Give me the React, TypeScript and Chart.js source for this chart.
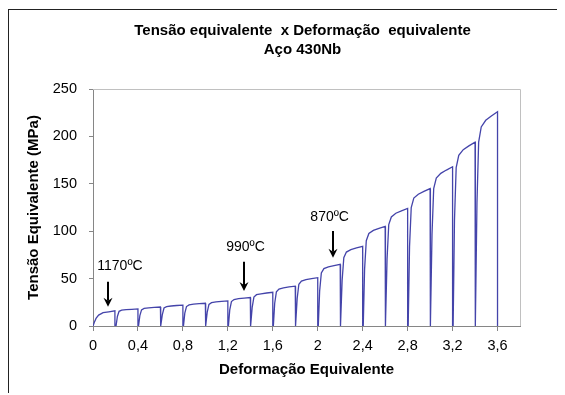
import React, { useEffect, useRef } from "react";
import { Chart, registerables } from "chart.js";

Chart.register(...registerables);

// ---- data ----
const titleLines = ["Tensão equivalente  x Deformação  equivalente", "Aço 430Nb"];
const xTitle = "Deformação Equivalente";
const yTitle = "Tensão Equivalente (MPa)";

// strain at which each deformation pass begins
const passStart = [0, 0.205, 0.405, 0.605, 0.805, 1.005, 1.205, 1.405, 1.605, 1.805, 2.005, 2.205, 2.405, 2.605, 2.805, 3.005, 3.205, 3.405];
// strain offsets within a pass where the stress was read
const passOffsets = [0, 0.012, 0.027, 0.05, 0.09, 0.14, 0.195, 0.195];
// stress (MPa) read at those offsets for every pass
const passStress = [
  [0, 4, 8, 11.5, 14, 15, 16, 0],
  [0, 10, 15.5, 16.7, 17.3, 17.6, 18, 0],
  [0, 11, 17, 18.6, 19.2, 19.6, 20, 0],
  [0, 12, 19, 20.5, 21.1, 21.6, 22, 0],
  [0, 13.5, 20.5, 22.3, 23, 23.5, 24, 0],
  [0, 15, 22.8, 24.6, 25.4, 26, 26.5, 0],
  [0, 17, 25.8, 27.9, 28.8, 29.4, 30, 0],
  [0, 20, 30.5, 33, 34, 34.8, 35.5, 0],
  [0, 24, 36, 39, 40.3, 41.2, 42, 0],
  [0, 29, 44, 47.4, 49, 50, 51, 0],
  [0, 37, 56, 60.5, 62.4, 63.7, 65, 0],
  [0, 48, 72, 78, 80.6, 82.3, 84, 0],
  [0, 60, 90, 97.6, 100.8, 103, 105, 0],
  [0, 71, 107, 115, 119, 121.5, 124, 0],
  [0, 84, 125, 135, 139, 142, 145, 0],
  [0, 97, 145, 156, 161, 164.5, 168, 0],
  [0, 112, 167, 180, 186, 190, 194, 0],
  [0, 130, 194, 210, 217, 221.5, 226, 0],
];

const xMin = 0;
const xMax = 3.8;
const xStep = 0.4;
const yMin = 0;
const yMax = 250;
const yStep = 50;

// temperature annotations
const noteLabels = ["1170ºC", "990ºC", "870ºC"];
const noteX = [0.24, 1.357, 2.106];
const noteY = [63.3, 83.6, 115.3];
const arrowX = [0.137, 1.34, 2.133];
const arrowTop = [46.7, 67.8, 100.2];
const arrowBottom = [20.4, 36.9, 72.1];

const FONT = "'Liberation Sans', Arial, Helvetica, sans-serif";

const points: { x: number; y: number }[] = [];
passStart.forEach((s, i) => {
  passOffsets.forEach((o, j) => {
    points.push({ x: s + o, y: passStress[i][j] });
  });
});

const decorPlugin = {
  id: "decor",
  beforeDatasetsDraw(chart: any) {
    const { ctx, chartArea } = chart;
    ctx.save();
    ctx.strokeStyle = "#c0c0c0";
    ctx.lineWidth = 1;
    ctx.beginPath();
    ctx.moveTo(chartArea.left, Math.round(chartArea.top) + 0.5);
    ctx.lineTo(Math.round(chartArea.right) + 0.5, Math.round(chartArea.top) + 0.5);
    ctx.lineTo(Math.round(chartArea.right) + 0.5, chartArea.bottom);
    ctx.stroke();
    ctx.restore();
  },
  afterDraw(chart: any) {
    const { ctx } = chart;
    const xs = chart.scales.x;
    const ys = chart.scales.y;
    ctx.save();
    // title
    ctx.fillStyle = "#000";
    ctx.textAlign = "center";
    ctx.textBaseline = "middle";
    ctx.font = `bold 15px ${FONT}`;
    ctx.fillText(titleLines[0], 293.5, 21);
    ctx.fillText(titleLines[1], 293.5, 40);
    // annotations
    ctx.font = `14px ${FONT}`;
    noteLabels.forEach((t, i) => {
      ctx.fillText(t, xs.getPixelForValue(noteX[i]), ys.getPixelForValue(noteY[i]));
      const ax = Math.round(xs.getPixelForValue(arrowX[i]));
      const y0 = ys.getPixelForValue(arrowTop[i]);
      const y1 = ys.getPixelForValue(arrowBottom[i]);
      ctx.strokeStyle = "#000";
      ctx.lineWidth = 2;
      ctx.beginPath();
      ctx.moveTo(ax, y0);
      ctx.lineTo(ax, y1 - 6);
      ctx.stroke();
      ctx.beginPath();
      ctx.moveTo(ax - 4.5, y1 - 9);
      ctx.lineTo(ax, y1);
      ctx.lineTo(ax + 4.5, y1 - 9);
      ctx.lineTo(ax, y1 - 6);
      ctx.closePath();
      ctx.fillStyle = "#000";
      ctx.fill();
    });
    ctx.restore();
  },
};

export default function App() {
  const ref = useRef<HTMLCanvasElement>(null);
  useEffect(() => {
    if (!ref.current) return;
    const chart = new Chart(ref.current, {
      type: "scatter",
      data: {
        datasets: [
          {
            data: points,
            showLine: true,
            borderColor: "#4444aa",
            borderWidth: 1.3,
            pointRadius: 0,
            tension: 0,
          },
        ],
      },
      options: {
        responsive: false,
        animation: false,
        devicePixelRatio: 1,
        layout: { padding: { top: 79, right: 45, bottom: 0, left: 0 } },
        plugins: {
          legend: { display: false },
          title: { display: false },
          tooltip: { enabled: false },
        },
        scales: {
          x: {
            type: "linear",
            min: xMin,
            max: xMax,
            ticks: {
              stepSize: xStep,
              includeBounds: false,
              autoSkip: false,
              maxRotation: 0,
              padding: 6,
              color: "#000",
              font: { family: FONT, size: 14.5 },
              callback: (v: any) => String(Math.round(Number(v) * 10) / 10).replace(".", ","),
            },
            grid: { display: true, drawOnChartArea: false, drawTicks: true, tickLength: 5, color: "#868686" },
            border: { display: true, color: "#868686", width: 1 },
            title: {
              display: true,
              text: xTitle,
              color: "#000",
              font: { family: FONT, size: 15, weight: "bold" },
              padding: { top: 0, bottom: 15 },
            },
            afterFit: (s: any) => {
              s.height = 68;
            },
          },
          y: {
            type: "linear",
            min: yMin,
            max: yMax,
            ticks: {
              stepSize: yStep,
              padding: 12,
              color: "#000",
              font: { family: FONT, size: 14.5 },
            },
            grid: { display: true, drawOnChartArea: false, drawTicks: true, tickLength: 4, color: "#868686" },
            border: { display: true, color: "#868686", width: 1 },
            title: {
              display: true,
              text: yTitle,
              color: "#000",
              font: { family: FONT, size: 15, weight: "bold" },
              padding: { top: 16, bottom: 0 },
            },
            afterFit: (s: any) => {
              s.width = 84;
            },
          },
        },
      } as any,
      plugins: [decorPlugin],
    });
    return () => chart.destroy();
  }, []);

  return (
    <div
      style={{
        position: "relative",
        top: 1,
        width: 557,
        height: 385,
        boxSizing: "border-box",
        borderLeft: "1px solid #222",
        borderTop: "1px solid #222",
        overflow: "hidden",
      }}
    >
      <canvas ref={ref} width={556} height={384} style={{ display: "block" }} />
    </div>
  );
}
